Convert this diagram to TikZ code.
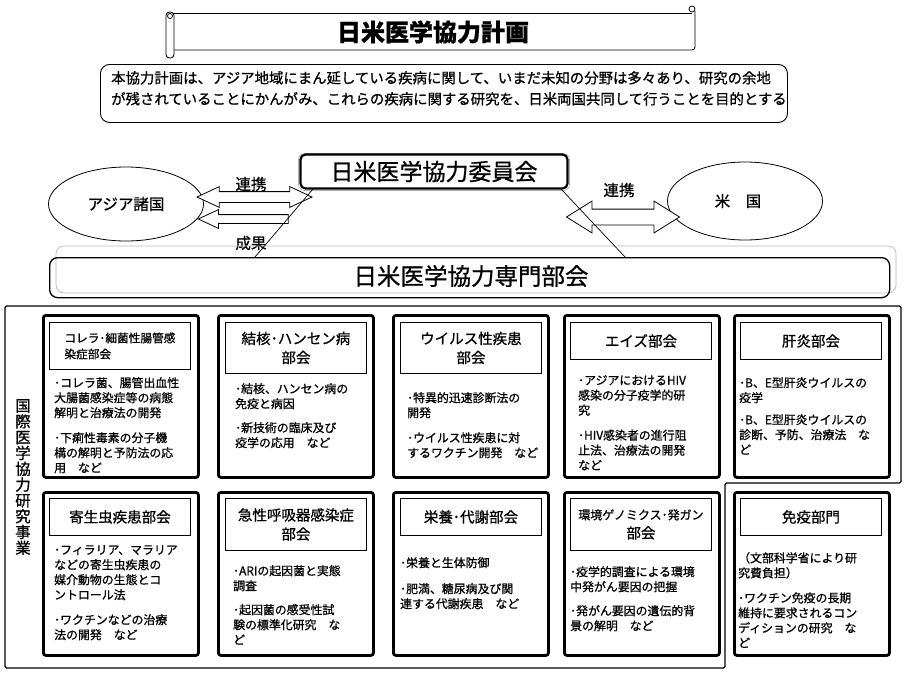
\documentclass[tikz,border=0pt]{standalone}
\usepackage{fontspec}
\setmainfont{Noto Sans CJK JP}[FakeBold=0.8]
\usetikzlibrary{shapes.arrows,shapes.geometric}
\tikzset{
  unitbox/.style={draw, line width=2.8pt, rounded corners=2.5pt, minimum width=155pt, inner sep=0pt, anchor=north west},
  headbox/.style={draw, line width=0.9pt, fill=white, inner sep=0pt, anchor=north west, minimum width=141pt, align=center},
  hfont/.style={font=\fontsize{14.5}{19}\selectfont},
  hsmall/.style={font=\fontsize{11.7}{16}\selectfont},
  bodytext/.style={anchor=north west, inner sep=0pt, align=left, font=\fontsize{11.9}{15}\selectfont},
  hollow/.style={draw, line width=0.8pt, fill=white, inner sep=0pt},
  lbl/.style={font=\fontsize{15.5}{15.5}\selectfont, inner sep=0pt},
  thinline/.style={line width=0.7pt},
}
\begin{document}
\begin{tikzpicture}[x=1pt,y=-1pt]
\useasboundingbox[fill=white] (0,0) rectangle (907,672);

% ---- title scroll
\draw[line width=0.9pt] (172,13) -- (692,13);
\draw[line width=0.9pt, rounded corners=3pt] (695,11) -- (695,50) -- (174,50);
\draw[line width=0.8pt, fill=white] (692,9) circle (3pt);
\draw[line width=0.9pt, fill=white, rounded corners=3.5pt] (166,12) rectangle (174,58);
\draw[line width=0.7pt] (170,16) circle (2.5pt);
\node[font=\fontsize{24}{24}\selectfont\bfseries, inner sep=0pt] (title) at (433,32) {日米医学協力計画};

% ---- description
\node[draw, line width=0.9pt, rounded corners=9pt, minimum width=687pt, minimum height=58pt, anchor=north west, inner sep=0pt] (desc) at (100,64) {};
\node[anchor=north west, inner sep=0pt, align=left, font=\fontsize{14.4}{21}\selectfont] (desctext) at (111,71)
  {本協力計画は、アジア地域にまん延している疾病に関して、いまだ未知の分野は多々あり、研究の余地\\が残されていることにかんがみ、これらの疾病に関する研究を、日米両国共同して行うことを目的とする};

% ---- committee
\draw[gray!60, line width=0.6pt, rounded corners=6pt] (298.5,153.5) rectangle (569.5,190.5);
\node[draw, line width=2.2pt, rounded corners=5pt, minimum width=267pt, minimum height=34pt, inner sep=0pt, font=\fontsize{23}{23}\selectfont] (comm) at (434,171.5) {日米医学協力委員会};

% ---- ellipses
\node[ellipse, draw, line width=0.8pt, minimum width=155pt, minimum height=74pt, inner sep=0pt] (asia) at (126,204) {};
\node[lbl] (asiatext) at (126,204) {アジア諸国};
\node[ellipse, draw, line width=0.8pt, minimum width=155pt, minimum height=78pt, inner sep=0pt] (usa) at (745,201) {};
\node[lbl] (usatext) at (738,201) {米　国};

% ---- block arrows
\node[double arrow, hollow, inner ysep=5pt, minimum height=115pt, double arrow head extend=5pt, double arrow tip angle=50] (arr1) at (254.5,197) {};
\node[single arrow, hollow, shape border rotate=180, inner ysep=4pt, minimum height=90pt, single arrow head extend=5pt, single arrow tip angle=50] (arr2) at (248,219) {};
\node[double arrow, hollow, inner ysep=7.5pt, minimum height=113pt, double arrow head extend=8pt, double arrow tip angle=64] (arr3) at (623,217) {};
\node[lbl] (renkei1) at (251,184) {連携};
\node[lbl] (seika) at (251,243) {成果};
\node[lbl] (renkei2) at (619,190) {連携};

% ---- specialist committee
\draw[gray!55, line width=0.7pt, rounded corners=8pt] (56,246) rectangle (896,293);
\node[draw, line width=1.3pt, rounded corners=8pt, minimum width=840pt, minimum height=40pt, inner sep=0pt, anchor=north west] (senmon) at (49,257) {};
\node[font=\fontsize{23.5}{23.5}\selectfont, inner sep=0pt] (senmontext) at (471,276) {日米医学協力専門部会};

% ---- connecting lines
\coordinate (la) at (313,189);
\coordinate (lb) at (255,257);
\coordinate (ra) at (561,189);
\coordinate (rb) at (625,257);
\draw[thinline] (la) -- (lb);
\draw[thinline] (ra) -- (rb);

% ---- outer frame
\draw[line width=1.3pt, rounded corners=1.5pt] (5,306) -- (901,306) -- (901,483) -- (725,483) -- (725,668) -- (5,668) -- cycle;
\node[font=\fontsize{15.5}{15.8}\selectfont, align=center, inner sep=0pt] (vlabel) at (23,477) {国\\際\\医\\学\\協\\力\\研\\究\\事\\業};

% ---- row 1
\node[unitbox, minimum height=162pt] (b1) at (42,314) {};
\node[unitbox, minimum height=162pt] (b2) at (217,314) {};
\node[unitbox, minimum height=162pt] (b3) at (392,314) {};
\node[unitbox, minimum height=162pt] (b4) at (563,314) {};
\node[unitbox, minimum height=162pt] (b5) at (733,314) {};

\node[headbox, hsmall, minimum height=47pt, align=left] (h1) at (49,322) {コレラ･細菌性腸管感\\染症部会};
\node[headbox, hfont, minimum height=51pt] (h2) at (225,322) {結核･ハンセン病\\部会};
\node[headbox, hfont, minimum height=51pt] (h3) at (400,322) {ウイルス性疾患\\部会};
\node[headbox, hfont, minimum height=37pt] (h4) at (570,322) {エイズ部会};
\node[headbox, hfont, minimum height=37pt] (h5) at (740,322) {肝炎部会};

\node[bodytext] (t1) at (54,377) {･コレラ菌、腸管出血性\\大腸菌感染症等の病態\\解明と治療法の開発\\[10pt]･下痢性毒素の分子機\\構の解明と予防法の応\\用　など};
\node[bodytext] (t2) at (235,383) {･結核、ハンセン病の\\免疫と病因\\[9pt]･新技術の臨床及び\\疫学の応用　など};
\node[bodytext] (t3) at (407,392) {･特異的迅速診断法の\\開発\\[10pt]･ウイルス性疾患に対\\するワクチン開発　など};
\node[bodytext] (t4) at (578,375) {･アジアにおけるHIV\\感染の分子疫学的研\\究\\[10pt]･HIV感染者の進行阻\\止法、治療法の開発\\など};
\node[bodytext] (t5) at (739,377) {･B、E型肝炎ウイルスの\\疫学\\[7pt]･B、E型肝炎ウイルスの\\診断、予防、治療法　な\\ど};

% ---- row 2
\node[unitbox, minimum height=163pt] (c1) at (42,491) {};
\node[unitbox, minimum height=163pt] (c2) at (217,491) {};
\node[unitbox, minimum height=163pt] (c3) at (392,491) {};
\node[unitbox, minimum height=163pt] (c4) at (563,491) {};
\node[unitbox, minimum height=163pt] (c5) at (733,491) {};

\node[headbox, hfont, minimum height=37pt] (k1) at (49,498) {寄生虫疾患部会};
\node[headbox, hfont, minimum height=52pt] (k2) at (225,498) {急性呼吸器感染症\\部会};
\node[headbox, hfont, minimum height=37pt] (k3) at (400,498) {栄養･代謝部会};
\node[headbox, hfont, minimum height=52pt] (k4) at (570,498) {{\fontsize{12}{19}\selectfont 環境ゲノミクス･発ガン}\\部会};
\node[headbox, hfont, minimum height=37pt] (k5) at (740,498) {免疫部門};

\node[bodytext] (u1) at (54,545) {･フィラリア、マラリア\\などの寄生虫疾患の\\媒介動物の生態とコ\\ントロール法\\[10pt]･ワクチンなどの治療\\法の開発　など};
\node[bodytext] (u2) at (233,565) {･ARIの起因菌と実態\\調査\\[9pt]･起因菌の感受性試\\験の標準化研究　な\\ど};
\node[bodytext] (u3) at (400,557) {･栄養と生体防御\\[11pt]･肥満、糖尿病及び関\\連する代謝疾患　など};
\node[bodytext] (u4) at (570,566) {･疫学的調査による環境\\中発がん要因の把握\\[9pt]･発がん要因の遺伝的背\\景の解明　など};
\node[bodytext] (u5) at (738,552) {（文部科学省により研\\究費負担）\\[10pt]･ワクチン免疫の長期\\維持に要求されるコン\\ディションの研究　な\\ど};
\end{tikzpicture}
\end{document}
